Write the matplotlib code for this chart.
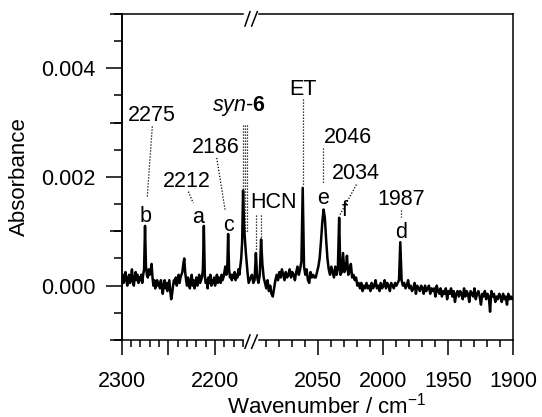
import numpy as np
import matplotlib
matplotlib.use("Agg")
import matplotlib.pyplot as plt
from matplotlib.ticker import FixedLocator, MultipleLocator, NullFormatter

plt.rcParams["font.family"] = ["Liberation Sans", "DejaVu Sans"]
plt.rcParams["mathtext.fontset"] = "custom"
plt.rcParams["mathtext.rm"] = "Liberation Sans"
plt.rcParams["mathtext.it"] = "Liberation Sans:italic"
plt.rcParams["mathtext.bf"] = "Liberation Sans:bold"

# spectrum, 1 cm-1 steps, absorbance in units of 1e-4
WN_LEFT = np.arange(2300, 2163, -1)  # 2300 ... 2164
ABS_LEFT_E4 = [
    1, 2, 0.5, 1.5, 2.5, 1, 0, 1.5, 2, 0.5,
    1.5, 3, 1, 0, 1.5, 2.5, 1, 2, 0.5, 1.5,
    1, 2, 0.5, 2, 3, 11, 3.5, 2, 1.5, 3,
    2, 2.5, 4, 1.5, 0, 1, -0.5, 0.5, 1, 0,
    0.5, -0.5, 1, 0, -1.5, 0, 1, -0.5, 0.5, -1,
    0, 1, -1, -2.5, -1.5, 0, 1, 0.5, 1.5, 0,
    1, 2, 0.5, 1.5, 2, 2.5, 4, 5, 2.5, 1,
    0, 1.5, 0.5, -0.5, 1, 2, 0, 1, -0.5, 0.5,
    1.5, 0, 1, 2, 0.5, 1, 1.5, 3, 11, 2,
    0.5, 1, -0.5, 1.5, 0.5, 2, 0, 1, 0.5, 1.5,
    0, 1, 2, 0.5, 1.5, 1, 0.5, 2, 1, 1.5,
    2.5, 3.5, 2, 2.5, 9.5, 3, 1.5, 2, 1, 2,
    1.5, 2.5, 1, 2, 1.5, 3, 2, 3.5, 5, 8,
    17.5, 11, 8.5, 6, 4, 2, 0.5,
]
WN_RIGHT = np.arange(2102, 1899, -1)  # 2102 ... 1900
ABS_RIGHT_E4 = [
    1.5, 2, 0.5, 1, 6, 1.5, 0.5, 2, 8.5, 4,
    1.5, 0.5, -0.5, 1, -1, 0, -1.5, -2, -0.5, 1,
    2, 1, 2.5, 1.5, 3, 2, 1, 2.5, 1.5, 2,
    3, 1.5, 2.5, 2, 1, 2.5, 3.5, 2, 3, 4.5,
    18, 3.5, 2, 3, 1, 0.5, 2.5, 1.5, 2, 1.5,
    1.5, 2.5, 3.5, 5, 8, 11.5, 14, 12.5, 8.5, 5,
    3, 2, 3.5, 2.5, 1.5, 3.5, 2, 3, 12.5, 2,
    2.5, 6, 2.5, 3, 5.5, 2, 2.5, 4, 1.5, 2,
    1, 1.5, 0, 0.5, -0.5, 0.5, -1, 0, -0.5, 0.5,
    -0.5, 0, -1, 0.5, -0.5, 0, 1, -0.5, 0, -1,
    0.5, -0.5, 0, 1, -0.5, 0.5, 0, -1, 0.5, 0,
    -0.5, 0.5, 0, 0.5, 1, 8, 1, 0, 0.5, -0.5,
    0, 1, -0.5, 0, -1, -0.5, 0.5, -1.5, 0, -0.5,
    -1, 0, -0.5, -1.5, 0, -1, -0.5, 0, -1.5, -0.5,
    -1, -0.5, -2, 0, -1, -1.5, -0.5, -2, -1, -1.5,
    -0.5, -2.5, -1, -1.5, -0.5, -2, -1, -3, -1.5, -1,
    -2, -1, -1.5, -2.5, -0.5, -2, -1, -1.5, -3, -1,
    -1.5, -2, -0.5, -2.5, -1.5, -1, -2, -3.5, -1.5, -2,
    -1, -2.5, -1.5, -2, -4.8, -1, -2, -1.5, -3, -2,
    -2.5, -1.5, -2, -3, -1.5, -2.5, -2, -3.5, -1.5, -2.5,
    -2, -2.5, -2.2,
]

# labels: text, wavenumber, absorbance (baseline of text)
LABELS = ["2275", "b", "2212", "a", "2186", "c", r"$\mathit{syn}$-$\mathbf{6}$",
          "HCN", "ET", "2046", "e", "2034", "f", "1987", "d"]
LABEL_WN = [2267.5, 2274.3, 2229.8, 2217.9, 2199.1, 2185.7, 2174.1,
            2084.1, 2061.7, 2027.1, 2046.3, 2021.3, 2029.6, 1986.7, 1986.5]
LABEL_Y = [3.03e-3, 1.18e-3, 1.82e-3, 1.16e-3, 2.45e-3, 1.00e-3, 3.21e-3,
           1.42e-3, 3.51e-3, 2.63e-3, 1.51e-3, 1.96e-3, 1.29e-3, 1.48e-3, 0.87e-3]

# dotted leader lines
LEAD_WN = [(2267.2, 2272.6), (2228.6, 2223.3), (2198.2, 2189.3),
           (2169.7, 2169.7), (2167.8, 2167.8), (2166.0, 2166.0),
           (2097.7, 2097.7), (2093.8, 2093.8), (2061.7, 2061.7),
           (2046.3, 2046.3), (2020.7, 2033.5), (1986.5, 1986.5)]
LEAD_Y = [(2.93e-3, 1.64e-3), (1.73e-3, 1.52e-3), (2.35e-3, 1.40e-3),
          (2.95e-3, 1.73e-3), (2.95e-3, 0.97e-3), (2.95e-3, 0.97e-3),
          (1.30e-3, 0.66e-3), (1.30e-3, 0.84e-3), (3.43e-3, 1.83e-3),
          (2.54e-3, 1.89e-3), (1.86e-3, 1.30e-3), (1.40e-3, 1.27e-3)]

XMAJOR = [2300, 2250, 2200, 2050, 2000, 1950, 1900]
XMAJOR_LABELS = ["2300", "", "2200", "2050", "2000", "1950", "1900"]
XMINOR = list(range(2290, 2165, -10)) + list(range(2090, 1900, -10))


# broken axis: 2300-2164 and 2102-1900 with different cm-1 per length
def fwd(w):
    w = np.asarray(w, dtype=float)
    u_r = (w - 1900) * 1.3
    u_gap = 262.6 + (w - 2102) * (2.0 / 62)
    u_l = 264.6 + (w - 2164) * 0.933
    return np.where(w <= 2102, u_r, np.where(w >= 2164, u_l, u_gap))


def inv(u):
    u = np.asarray(u, dtype=float)
    w_r = 1900 + u / 1.3
    w_gap = 2102 + (u - 262.6) * 31.0
    w_l = 2164 + (u - 264.6) / 0.933
    return np.where(u <= 262.6, w_r, np.where(u >= 264.6, w_l, w_gap))


wn = np.concatenate([WN_LEFT, WN_RIGHT])
absb = np.concatenate([ABS_LEFT_E4, ABS_RIGHT_E4]) * 1e-4

fig = plt.figure(figsize=(5.42, 4.17), dpi=100)
ax = fig.add_axes([0.2245, 0.1847, 0.7229, 0.7818])
ax.set_xscale("function", functions=(fwd, inv))

ax.plot(wn, absb, color="black", lw=1.8)

for (w1, w2), (y1, y2) in zip(LEAD_WN, LEAD_Y):
    ax.plot([w1, w2], [y1, y2], color="black", lw=0.9, ls=(0, (1, 1.4)))

for s, w, y in zip(LABELS, LABEL_WN, LABEL_Y):
    ax.text(w, y, s, ha="center", va="baseline", fontsize=15.5)

ax.set_xlim(2300, 1900)
ax.set_ylim(-0.001, 0.005)

ax.xaxis.set_major_locator(FixedLocator(XMAJOR))
ax.set_xticklabels(XMAJOR_LABELS)
ax.xaxis.set_minor_locator(FixedLocator(XMINOR))
ax.yaxis.set_major_locator(MultipleLocator(0.002))
ax.yaxis.set_minor_locator(MultipleLocator(0.0005))
ax.yaxis.set_major_formatter(matplotlib.ticker.FormatStrFormatter("%.3f"))

ax.tick_params(axis="both", which="both", direction="out", width=1.1,
               labelsize=15.5, top=False, right=False)
ax.tick_params(axis="x", which="major", length=11, pad=11)
ax.tick_params(axis="x", which="minor", length=5)
ax.tick_params(axis="y", which="major", length=11.5, pad=7)
ax.tick_params(axis="y", which="minor", length=5.5)

# medium ticks every 0.002 in between
sec = ax.secondary_yaxis("left")
sec.yaxis.set_major_locator(FixedLocator([-0.001, 0.001, 0.003, 0.005]))
sec.yaxis.set_major_formatter(NullFormatter())
sec.tick_params(length=8.5, width=1.1, direction="out")
sec.spines["left"].set_linewidth(1.1)

for side in ["left", "right"]:
    ax.spines[side].set_linewidth(1.1)
ax.spines["top"].set_visible(False)
ax.spines["bottom"].set_visible(False)

# top / bottom frame with // break marks
for yy in (0, 1):
    ax.plot([0, 0.3104], [yy, yy], transform=ax.transAxes, clip_on=False,
            color="black", lw=1.1)
    ax.plot([0.3505, 1], [yy, yy], transform=ax.transAxes, clip_on=False,
            color="black", lw=1.1)
for x0, x1 in [(0.3147, 0.3275), (0.3318, 0.3461)]:
    ax.plot([x0, x1], [0.963, 1.007], transform=ax.transAxes, clip_on=False,
            color="black", lw=1.1)
    ax.plot([x0, x1], [-0.0255, 0.0153], transform=ax.transAxes,
            clip_on=False, color="black", lw=1.1)

ax.set_ylabel("Absorbance", fontsize=16)
ax.yaxis.set_label_coords(-0.234, 0.5)
ax.set_xlabel("Wavenumber / cm$^{-1}$", fontsize=16)
ax.xaxis.set_label_coords(0.523, -0.16)

plt.savefig("out.png", dpi=100)
